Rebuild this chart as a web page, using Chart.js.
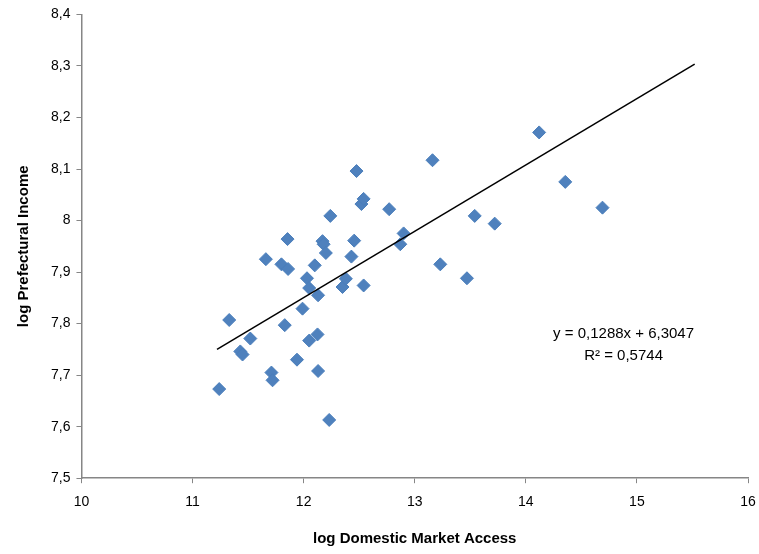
<!DOCTYPE html>
<html lang="en">
<head>
  <meta charset="UTF-8" />
  <title>Market Access vs Income</title>
  <style>
    body { margin: 0; padding: 0; background: #fff; }
    #wrap { width: 759px; height: 554px; }
  </style>
</head>
<body>
  <div id="wrap"><canvas id="chart" width="759" height="554"></canvas></div>

  <script src="https://cdn.jsdelivr.net/npm/chart.js"></script>
  <script>
    // log domestic market access (x) and log prefectural income (y)
    const marketAccess = [
      11.24, 11.33, 11.43, 11.45, 11.52, 11.66, 11.71, 11.72, 11.80, 11.86,
      11.855, 11.83, 11.94, 11.99, 12.03, 12.05, 12.05, 12.10, 12.13, 12.125,
      12.13, 12.17, 12.18, 12.20, 12.23, 12.24, 12.35, 12.38, 12.43, 12.455,
      12.476, 12.52, 12.54, 12.54, 12.77, 12.87, 12.90, 13.16, 13.23, 13.47,
      13.54, 13.72, 14.12, 14.355, 14.69
    ];
    const income = [
      7.673, 7.807, 7.746, 7.740, 7.771, 7.925, 7.705, 7.690, 7.915, 7.906,
      7.964, 7.797, 7.730, 7.829, 7.888, 7.869, 7.767, 7.913, 7.855, 7.779,
      7.708, 7.960, 7.954, 7.937, 7.613, 8.009, 7.871, 7.887, 7.930, 7.961,
      8.096, 8.032, 8.042, 7.874, 8.022, 7.954, 7.975, 8.117, 7.915, 7.888,
      8.009, 7.994, 8.171, 8.075, 8.025
    ];

    // linear trend line as printed on the chart
    const slope = 0.1288;
    const intercept = 6.3047;
    const rSquared = 0.5744;
    const trendRange = [11.22, 15.52];

    const xTicks = [10, 11, 12, 13, 14, 15, 16];
    const yTicks = [7.5, 7.6, 7.7, 7.8, 7.9, 8, 8.1, 8.2, 8.3, 8.4];

    const comma = v => String(Number(v.toFixed(4))).replace('.', ',');

    const points = marketAccess.map((x, i) => ({ x: x, y: income[i] }));
    const trend = trendRange.map(x => ({ x: x, y: slope * x + intercept }));

    const axisColor = '#868686';
    const fontFamily = "'Liberation Sans', Arial, sans-serif";

    // equation label, anchored to data coordinates
    const equationLabel = {
      id: 'equationLabel',
      afterDraw(chart) {
        const { ctx, scales } = chart;
        const px = scales.x.getPixelForValue(14.88);
        const py = scales.y.getPixelForValue(7.781);
        ctx.save();
        ctx.fillStyle = '#000';
        ctx.font = '15px ' + fontFamily;
        ctx.textAlign = 'center';
        ctx.textBaseline = 'middle';
        ctx.fillText('y = ' + comma(slope) + 'x + ' + comma(intercept), px, py);
        ctx.fillText('R² = ' + comma(rSquared), px, py + 22);
        ctx.restore();
      }
    };

    const ctx = document.getElementById('chart').getContext('2d');
    new Chart(ctx, {
      type: 'scatter',
      data: {
        datasets: [{
          label: 'Prefectures',
          data: points,
          pointStyle: 'rectRot',
          pointRadius: 6.5,
          pointBackgroundColor: '#4F81BD',
          pointBorderColor: '#4A7EBB',
          pointBorderWidth: 1,
          order: 2
        }, {
          label: 'Trend',
          type: 'line',
          data: trend,
          borderColor: '#000',
          borderWidth: 1.5,
          pointRadius: 0,
          fill: false,
          order: 1
        }]
      },
      options: {
        responsive: false,
        animation: false,
        layout: { padding: { left: 11, right: 11, top: 10, bottom: 2 } },
        plugins: {
          legend: { display: false },
          tooltip: { enabled: false }
        },
        scales: {
          x: {
            type: 'linear',
            min: 10,
            max: 16,
            afterBuildTicks: axis => { axis.ticks = xTicks.map(v => ({ value: v })); },
            afterFit: axis => { axis.paddingRight = 0; },
            grid: { drawOnChartArea: false, drawTicks: true, tickLength: 5, color: axisColor },
            border: { color: axisColor, width: 1.5 },
            ticks: { color: '#000', font: { family: fontFamily, size: 14 }, padding: 11 },
            title: {
              display: true,
              text: 'log Domestic Market Access',
              color: '#000',
              font: { family: fontFamily, size: 15, weight: 'bold' },
              padding: { top: 8 }
            }
          },
          y: {
            type: 'linear',
            min: 7.5,
            max: 8.4,
            afterBuildTicks: axis => { axis.ticks = yTicks.map(v => ({ value: v })); },
            grid: { drawOnChartArea: false, drawTicks: true, tickLength: 5, color: axisColor },
            border: { color: axisColor, width: 1.5 },
            ticks: {
              color: '#000',
              font: { family: fontFamily, size: 14 },
              padding: 6,
              callback: v => comma(v)
            },
            title: {
              display: true,
              text: 'log Prefectural Income',
              color: '#000',
              font: { family: fontFamily, size: 15, weight: 'bold' },
              padding: { bottom: 12 }
            }
          }
        }
      },
      plugins: [equationLabel]
    });
  </script>
</body>
</html>
